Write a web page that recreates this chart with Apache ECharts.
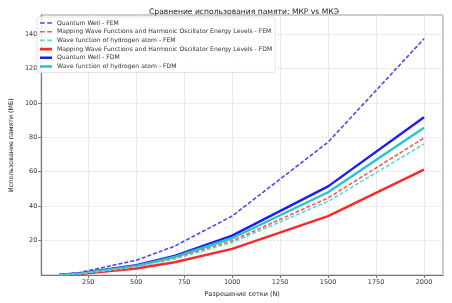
<!DOCTYPE html>
<html><head><meta charset="utf-8">
<script src="https://cdn.jsdelivr.net/npm/echarts@6/dist/echarts.min.js"></script>
<style>html,body{margin:0;padding:0;background:#fff}#c{width:452px;height:303px}</style>
</head><body><div id="c"></div>
<script>
const gridN = [100, 200, 500, 700, 1000, 1500, 2000];
const xTicks = [250, 500, 750, 1000, 1250, 1500, 1750, 2000];
const qwFEM = [0.34, 1.37, 8.6, 16.8, 34.3, 77.2, 137.2];
const mapFEM = [0.2, 0.8, 4.98, 9.75, 19.9, 44.8, 79.6];
const hFEM = [0.19, 0.76, 4.75, 9.3, 19.0, 42.8, 76.1];
const mapFDM = [0.15, 0.61, 3.8, 7.45, 15.2, 34.2, 61.2];
const qwFDM = [0.23, 0.92, 5.7, 11.2, 22.9, 51.5, 91.6];
const hFDM = [0.21, 0.86, 5.35, 10.5, 21.4, 48.1, 85.6];
const names = [
  'Quantum Well - FEM',
  'Mapping Wave Functions and Harmonic Oscillator Energy Levels - FEM',
  'Wave function of hydrogen atom - FEM',
  'Mapping Wave Functions and Harmonic Oscillator Energy Levels - FDM',
  'Quantum Well - FDM',
  'Wave function of hydrogen atom - FDM'
];
const values = [qwFEM, mapFEM, hFEM, mapFDM, qwFDM, hFDM];
const colors = ['#4a4af0', '#f45a5a', '#5cd6d6', '#f52a2a', '#1c1cf5', '#26c6c6'];
const dashed = [true, true, true, false, false, false];
const font = 'DejaVu Sans';
const dashIcon = 'path://M0,0L0.01,0L0.01,0.01ZM0,6L0.01,6L0.01,6.01ZM0,2.2h4.6v1.6h-4.6zM7,2.2h4.6v1.6h-4.6z';
const solidIcon = 'path://M0,0L0.01,0L0.01,0.01ZM0,6L0.01,6L0.01,6.01ZM0,1.7h12v2.6h-12z';
const chart = echarts.init(document.getElementById('c'), null, {renderer: 'canvas'});
chart.setOption({
  animation: false,
  backgroundColor: '#fff',
  title: {text: 'Сравнение использования памяти: МКР vs МКЭ', left: 239, textAlign: 'center', top: 3,
    textStyle: {fontFamily: font, fontSize: 7.6, fontWeight: 'normal', color: '#222'}},
  grid: {left: 35, right: 9, top: 15, bottom: 23, show: true, borderColor: '#999', borderWidth: 1},
  legend: {orient: 'vertical', left: 37, top: 17, itemWidth: 12, itemHeight: 6, itemGap: 2.7,
    symbolKeepAspect: false,
    backgroundColor: 'rgba(255,255,255,0.85)', borderColor: '#ddd', borderWidth: 0.8, borderRadius: 2, padding: [3, 3, 3, 3],
    textStyle: {fontFamily: font, fontSize: 6.1, color: '#333', padding: [0, 0, 0, 0]},
    data: names.map((n, i) => ({name: n, icon: dashed[i] ? dashIcon : solidIcon}))},
  xAxis: {type: 'value', min: 5, max: 2099,
    name: 'Разрешение сетки (N)', nameLocation: 'middle', nameGap: 14,
    nameTextStyle: {fontFamily: font, fontSize: 6.5, color: '#222'},
    axisLine: {show: true, lineStyle: {color: '#777', width: 1.2}},
    axisTick: {show: true, length: 3, customValues: xTicks, lineStyle: {color: '#777'}},
    axisLabel: {customValues: xTicks, formatter: v => String(v), fontFamily: font, fontSize: 6.5, color: '#333', margin: 4},
    splitLine: {show: true, lineStyle: {color: '#e2e2e2', width: 0.8}}},
  yAxis: {type: 'value', min: 0, max: 151, interval: 20,
    name: 'Использование памяти (МБ)', nameLocation: 'middle', nameGap: 22,
    nameTextStyle: {fontFamily: font, fontSize: 6.3, color: '#222'},
    axisLine: {show: true, lineStyle: {color: '#777', width: 1.2}},
    axisTick: {show: true, length: 3, lineStyle: {color: '#777'}},
    axisLabel: {showMinLabel: false, showMaxLabel: false, formatter: v => String(v), fontFamily: font, fontSize: 6.5, color: '#333', margin: 4},
    splitLine: {show: true, lineStyle: {color: '#d6d6d6', width: 0.8, type: [2, 2]}}},
  series: names.map((n, i) => ({
    name: n, type: 'line', symbol: 'none', z: dashed[i] ? 3 : 2,
    data: gridN.map((x, j) => [x, values[i][j]]),
    itemStyle: {color: colors[i]},
    lineStyle: {color: colors[i], width: dashed[i] ? 1.6 : 2.4, type: dashed[i] ? [4, 2] : 'solid'}
  }))
});
</script></body></html>
